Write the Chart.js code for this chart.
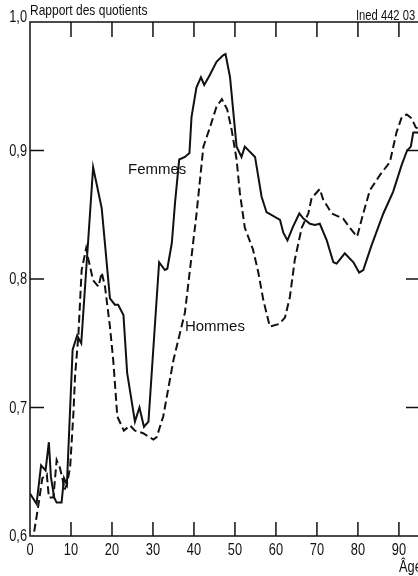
<!DOCTYPE html>
<html>
<head>
<meta charset="utf-8">
<script src="https://cdn.jsdelivr.net/npm/chart.js@4"></script>
<style>
  html, body { margin: 0; padding: 0; background: #fff; overflow: hidden; }
  #wrap { width: 424px; height: 576px; }
</style>
</head>
<body>
<div id="wrap"><canvas id="myChart" width="424" height="576"></canvas></div>
<script>
// ages et rapports
var femmesAges = [0, 1.6, 2.7, 3.8, 4.6, 5.1, 5.9, 6.5, 7.7, 8.3, 9, 10.4, 11.5, 12.5, 15.4, 17.5, 19.5, 20.7, 21.5, 22.8, 23.7, 25.6, 26.7, 27.8, 28.9, 31.5, 32.9, 33.5, 34.6, 35.4, 36.4, 37.8, 38.9, 39.4, 40.6, 41.7, 42.5, 43.9, 45.5, 47.1, 47.7, 48.8, 50.4, 51.6, 52.4, 54.9, 56.5, 57.7, 61, 61.8, 62.8, 64.2, 65.7, 66.7, 68.3, 69.5, 70.7, 72.4, 74, 74.8, 76.8, 78.9, 80.3, 81.3, 83.3, 86.2, 88.6, 90.7, 92, 92.9, 93.5, 94.5, 96];
var femmesRapport = [0.633, 0.625, 0.655, 0.651, 0.673, 0.646, 0.630, 0.626, 0.626, 0.645, 0.640, 0.745, 0.756, 0.750, 0.887, 0.855, 0.785, 0.780, 0.780, 0.772, 0.727, 0.689, 0.700, 0.685, 0.689, 0.813, 0.807, 0.808, 0.828, 0.860, 0.893, 0.895, 0.898, 0.926, 0.949, 0.957, 0.951, 0.959, 0.969, 0.974, 0.975, 0.957, 0.903, 0.895, 0.903, 0.895, 0.864, 0.852, 0.846, 0.836, 0.830, 0.841, 0.851, 0.847, 0.843, 0.842, 0.843, 0.830, 0.813, 0.812, 0.820, 0.813, 0.805, 0.807, 0.826, 0.851, 0.868, 0.889, 0.900, 0.903, 0.914, 0.914, 0.912];

var hommesAges = [0, 0.8, 2, 3, 4.1, 4.6, 5.7, 6.5, 7.3, 7.9, 8.4, 9, 9.8, 10.6, 11, 11.8, 12.6, 13.7, 14.2, 15.4, 16.7, 17.5, 18.3, 19.5, 20.3, 21.3, 22.9, 24.4, 25.6, 27.6, 30.1, 30.9, 32.5, 35, 37.8, 40.6, 42.3, 43.9, 45.5, 46.8, 48.1, 49.2, 50.4, 51.2, 52.4, 54.4, 55.7, 56.9, 58.5, 60.8, 62.2, 63.4, 64.6, 66.3, 67.9, 68.7, 70.7, 71.5, 73.6, 76.4, 78, 79.8, 81.3, 82.9, 85.4, 87.8, 89.4, 90.7, 91.9, 93.1, 94.1, 96];
var hommesRapport = [0.585, 0.599, 0.623, 0.645, 0.648, 0.630, 0.630, 0.659, 0.653, 0.645, 0.636, 0.640, 0.654, 0.696, 0.725, 0.756, 0.807, 0.824, 0.816, 0.799, 0.794, 0.805, 0.794, 0.763, 0.737, 0.693, 0.682, 0.686, 0.682, 0.680, 0.675, 0.677, 0.693, 0.737, 0.774, 0.850, 0.903, 0.918, 0.934, 0.940, 0.932, 0.916, 0.893, 0.867, 0.840, 0.823, 0.805, 0.784, 0.763, 0.765, 0.770, 0.786, 0.815, 0.840, 0.851, 0.863, 0.870, 0.862, 0.851, 0.847, 0.840, 0.833, 0.851, 0.869, 0.881, 0.891, 0.914, 0.926, 0.928, 0.925, 0.918, 0.915];

var xTicks = [0, 10, 20, 30, 40, 50, 60, 70, 80, 90];
var yTicks = [0.6, 0.7, 0.8, 0.9, 1.0];

function toPoints(ages, vals) {
    var pts = [];
    for (var i = 0; i < ages.length; i++) {
        pts.push({x: ages[i], y: vals[i]});
    }
    return pts;
}

var normal = "'Liberation Sans', Arial, sans-serif";
var ink = '#111';

// texte étroit (police condensée simulée)
function narrowText(ctx, txt, x, y, size, align) {
    var k = 0.8;
    ctx.save();
    ctx.font = size + 'px ' + normal;
    var w = ctx.measureText(txt).width * k;
    var x0 = x;
    if (align == 'center') x0 = x - w / 2;
    if (align == 'right') x0 = x - w;
    ctx.translate(x0, y);
    ctx.scale(k, 1);
    ctx.textAlign = 'left';
    ctx.fillText(txt, 0, 0);
    ctx.restore();
}

// cadre, graduations vers l'intérieur, textes
var cadre = {
    id: 'cadre',
    afterDraw: function (chart) {
        var ctx = chart.ctx;
        var a = chart.chartArea;
        var xs = chart.scales.x;
        var ys = chart.scales.y;
        ctx.save();
        ctx.strokeStyle = ink;
        ctx.lineWidth = 1.5;
        ctx.strokeRect(a.left, a.top, a.right - a.left, a.bottom - a.top);
        ctx.beginPath();
        xTicks.forEach(function (t) {
            if (t == 0) return;
            var px = xs.getPixelForValue(t);
            ctx.moveTo(px, a.top); ctx.lineTo(px, a.top + 15);
            ctx.moveTo(px, a.bottom); ctx.lineTo(px, a.bottom - 14);
        });
        yTicks.forEach(function (t) {
            if (t == 0.6 || t == 1.0) return;
            var py = ys.getPixelForValue(t);
            ctx.moveTo(a.left, py); ctx.lineTo(a.left + 14, py);
            ctx.moveTo(a.right, py); ctx.lineTo(a.right - 13, py);
        });
        ctx.stroke();

        ctx.fillStyle = ink;
        ctx.textBaseline = 'middle';
        xTicks.forEach(function (t) {
            narrowText(ctx, String(t), xs.getPixelForValue(t), a.bottom + 15, 16, 'center');
        });
        yTicks.forEach(function (t) {
            var dy = (t == 1.0) ? -4 : (t == 0.6 ? 1 : 1);
            narrowText(ctx, t.toFixed(1).replace('.', ','), a.left - 3, ys.getPixelForValue(t) + dy, 16, 'right');
        });

        ctx.textBaseline = 'alphabetic';
        narrowText(ctx, 'Rapport des quotients', a.left, 15, 15, 'left');
        narrowText(ctx, 'Ined 442 03', 356, 20, 14, 'left');
        narrowText(ctx, 'Âge', 399, 572, 16, 'left');

        ctx.font = '15px ' + normal;
        ctx.textBaseline = 'middle';
        ctx.textAlign = 'left';
        ctx.fillText('Femmes', xs.getPixelForValue(23.9), ys.getPixelForValue(0.885));
        ctx.fillText('Hommes', xs.getPixelForValue(37.8), ys.getPixelForValue(0.763));
        ctx.restore();
    }
};

var ctx = document.getElementById('myChart').getContext('2d');
var myChart = new Chart(ctx, {
    type: 'line',
    data: {
        datasets: [{
            label: 'Femmes',
            data: toPoints(femmesAges, femmesRapport),
            borderColor: ink,
            borderWidth: 2,
            pointRadius: 0,
            tension: 0,
            fill: false
        }, {
            label: 'Hommes',
            data: toPoints(hommesAges, hommesRapport),
            borderColor: ink,
            borderWidth: 2,
            borderDash: [8, 4],
            pointRadius: 0,
            tension: 0,
            fill: false
        }]
    },
    options: {
        responsive: false,
        animation: false,
        events: [],
        layout: { padding: { top: 22, right: 5, left: 0, bottom: 0 } },
        plugins: {
            legend: { display: false },
            tooltip: { enabled: false }
        },
        scales: {
            x: {
                type: 'linear',
                min: 0,
                max: 94.9,
                afterBuildTicks: function (s) {
                    s.ticks = xTicks.map(function (v) { return {value: v}; });
                },
                afterFit: function (s) { s.height = 40; },
                grid: { display: false, drawTicks: false },
                border: { display: false },
                ticks: { display: false }
            },
            y: {
                type: 'linear',
                min: 0.6,
                max: 1.0,
                afterBuildTicks: function (s) {
                    s.ticks = yTicks.map(function (v) { return {value: v}; });
                },
                afterFit: function (s) { s.width = 30; },
                grid: { display: false, drawTicks: false },
                border: { display: false },
                ticks: { display: false }
            }
        }
    },
    plugins: [cadre]
});
</script>
</body>
</html>
